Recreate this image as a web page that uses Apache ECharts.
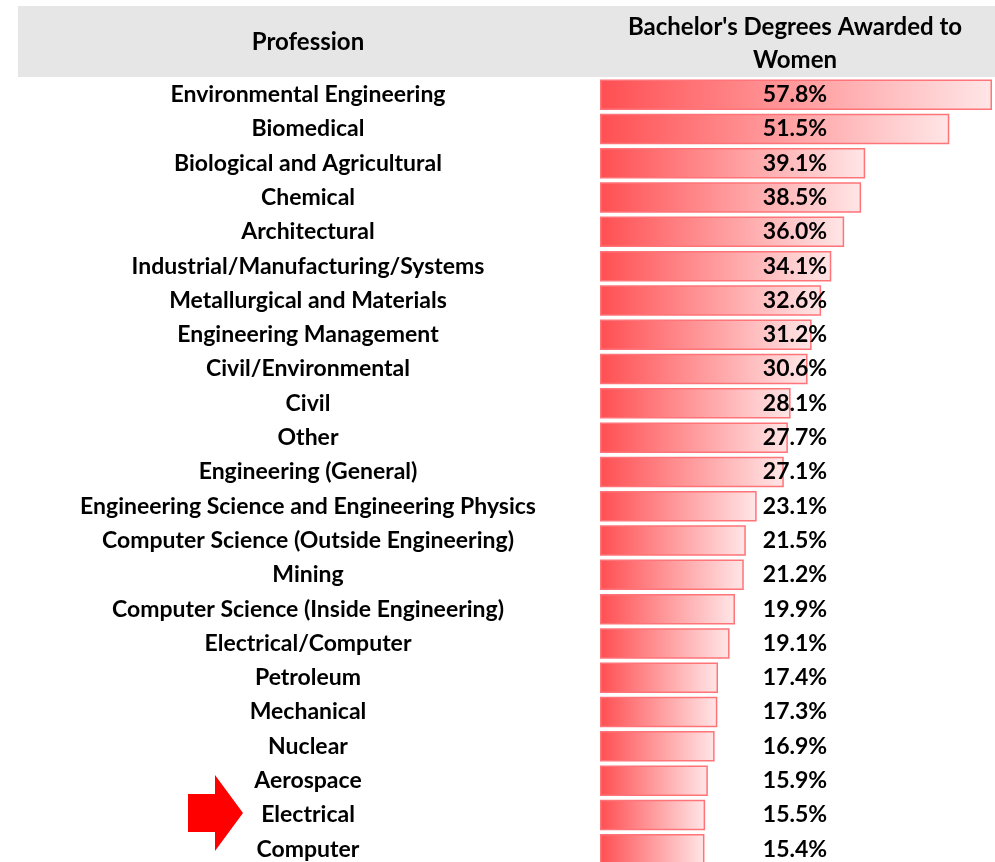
<!DOCTYPE html>
<html>
<head>
<meta charset="utf-8">
<script src="https://cdn.jsdelivr.net/npm/echarts@6/dist/echarts.min.js"></script>
<style>
html,body{margin:0;padding:0;background:#fff;overflow:hidden;}
#chart{width:1010px;height:900px;}
</style>
</head>
<body>
<div id="chart"></div>
<script>
const professions = [
  "Environmental Engineering",
  "Biomedical",
  "Biological and Agricultural",
  "Chemical",
  "Architectural",
  "Industrial/Manufacturing/Systems",
  "Metallurgical and Materials",
  "Engineering Management",
  "Civil/Environmental",
  "Civil",
  "Other",
  "Engineering (General)",
  "Engineering Science and Engineering Physics",
  "Computer Science (Outside Engineering)",
  "Mining",
  "Computer Science (Inside Engineering)",
  "Electrical/Computer",
  "Petroleum",
  "Mechanical",
  "Nuclear",
  "Aerospace",
  "Electrical",
  "Computer"
];
const womenShare = [57.8, 51.5, 39.1, 38.5, 36.0, 34.1, 32.6, 31.2, 30.6, 28.1, 27.7, 27.1, 23.1, 21.5, 21.2, 19.9, 19.1, 17.4, 17.3, 16.9, 15.9, 15.5, 15.4];
const headerProfession = "Profession";
const headerValue = ["Bachelor's Degrees Awarded to", "Women"];

const FONT = "Lato";
const chart = echarts.init(document.getElementById('chart'), null, {renderer: 'canvas'});

const gridLeft = 600, gridTop = 77.5, rowH = 34.3;
const pxPerUnit = 392 / 57.8;
const axisMax = 60;

const option = {
  backgroundColor: '#ffffff',
  animation: false,
  textStyle: {fontFamily: FONT},
  grid: {left: gridLeft, top: gridTop, width: axisMax * pxPerUnit, height: rowH * professions.length, containLabel: false},
  xAxis: {type: 'value', min: 0, max: axisMax, show: false},
  yAxis: {
    type: 'category', inverse: true, data: professions,
    axisLine: {show: false}, axisTick: {show: false}, splitLine: {show: false},
    axisLabel: {
      margin: gridLeft - 308, align: 'center',
      fontFamily: FONT, fontWeight: 'bold', fontSize: 23, color: '#000'
    }
  },
  graphic: [
    {type: 'rect', left: 18, top: 6, z: 0, shape: {width: 995, height: 71}, style: {fill: '#e6e6e6'}, silent: true},
    {type: 'text', x: 308, y: 42, z: 10, style: {text: headerProfession, fill: '#000', font: 'bold 24px ' + FONT, align: 'center', verticalAlign: 'middle'}},
    {type: 'text', x: 795, y: 27, z: 10, style: {text: headerValue[0], fill: '#000', font: 'bold 24px ' + FONT, align: 'center', verticalAlign: 'middle'}},
    {type: 'text', x: 795, y: 60, z: 10, style: {text: headerValue[1], fill: '#000', font: 'bold 24px ' + FONT, align: 'center', verticalAlign: 'middle'}},
    {type: 'polygon', z: 10, shape: {points: [[188, 794], [215, 794], [215, 775], [243, 813], [215, 851], [215, 832], [188, 832]]}, style: {fill: '#ff0000'}}
  ],
  series: [{
    type: 'bar',
    data: womenShare,
    barCategoryGap: '11%',
    itemStyle: {
      color: new echarts.graphic.LinearGradient(0, 0, 1, 0, [
        {offset: 0, color: '#ff4f52'},
        {offset: 1, color: '#ffe6e7'}
      ]),
      borderColor: '#ff7478',
      borderWidth: 1.5
    },
    label: {
      show: true,
      position: [195, '50%'],
      align: 'center', verticalAlign: 'middle',
      formatter: p => p.value.toFixed(1) + '%',
      fontFamily: FONT, fontWeight: 'bold', fontSize: 23, color: '#000'
    },
    z: 2
  }]
};
chart.setOption(option);
</script>
</body>
</html>
